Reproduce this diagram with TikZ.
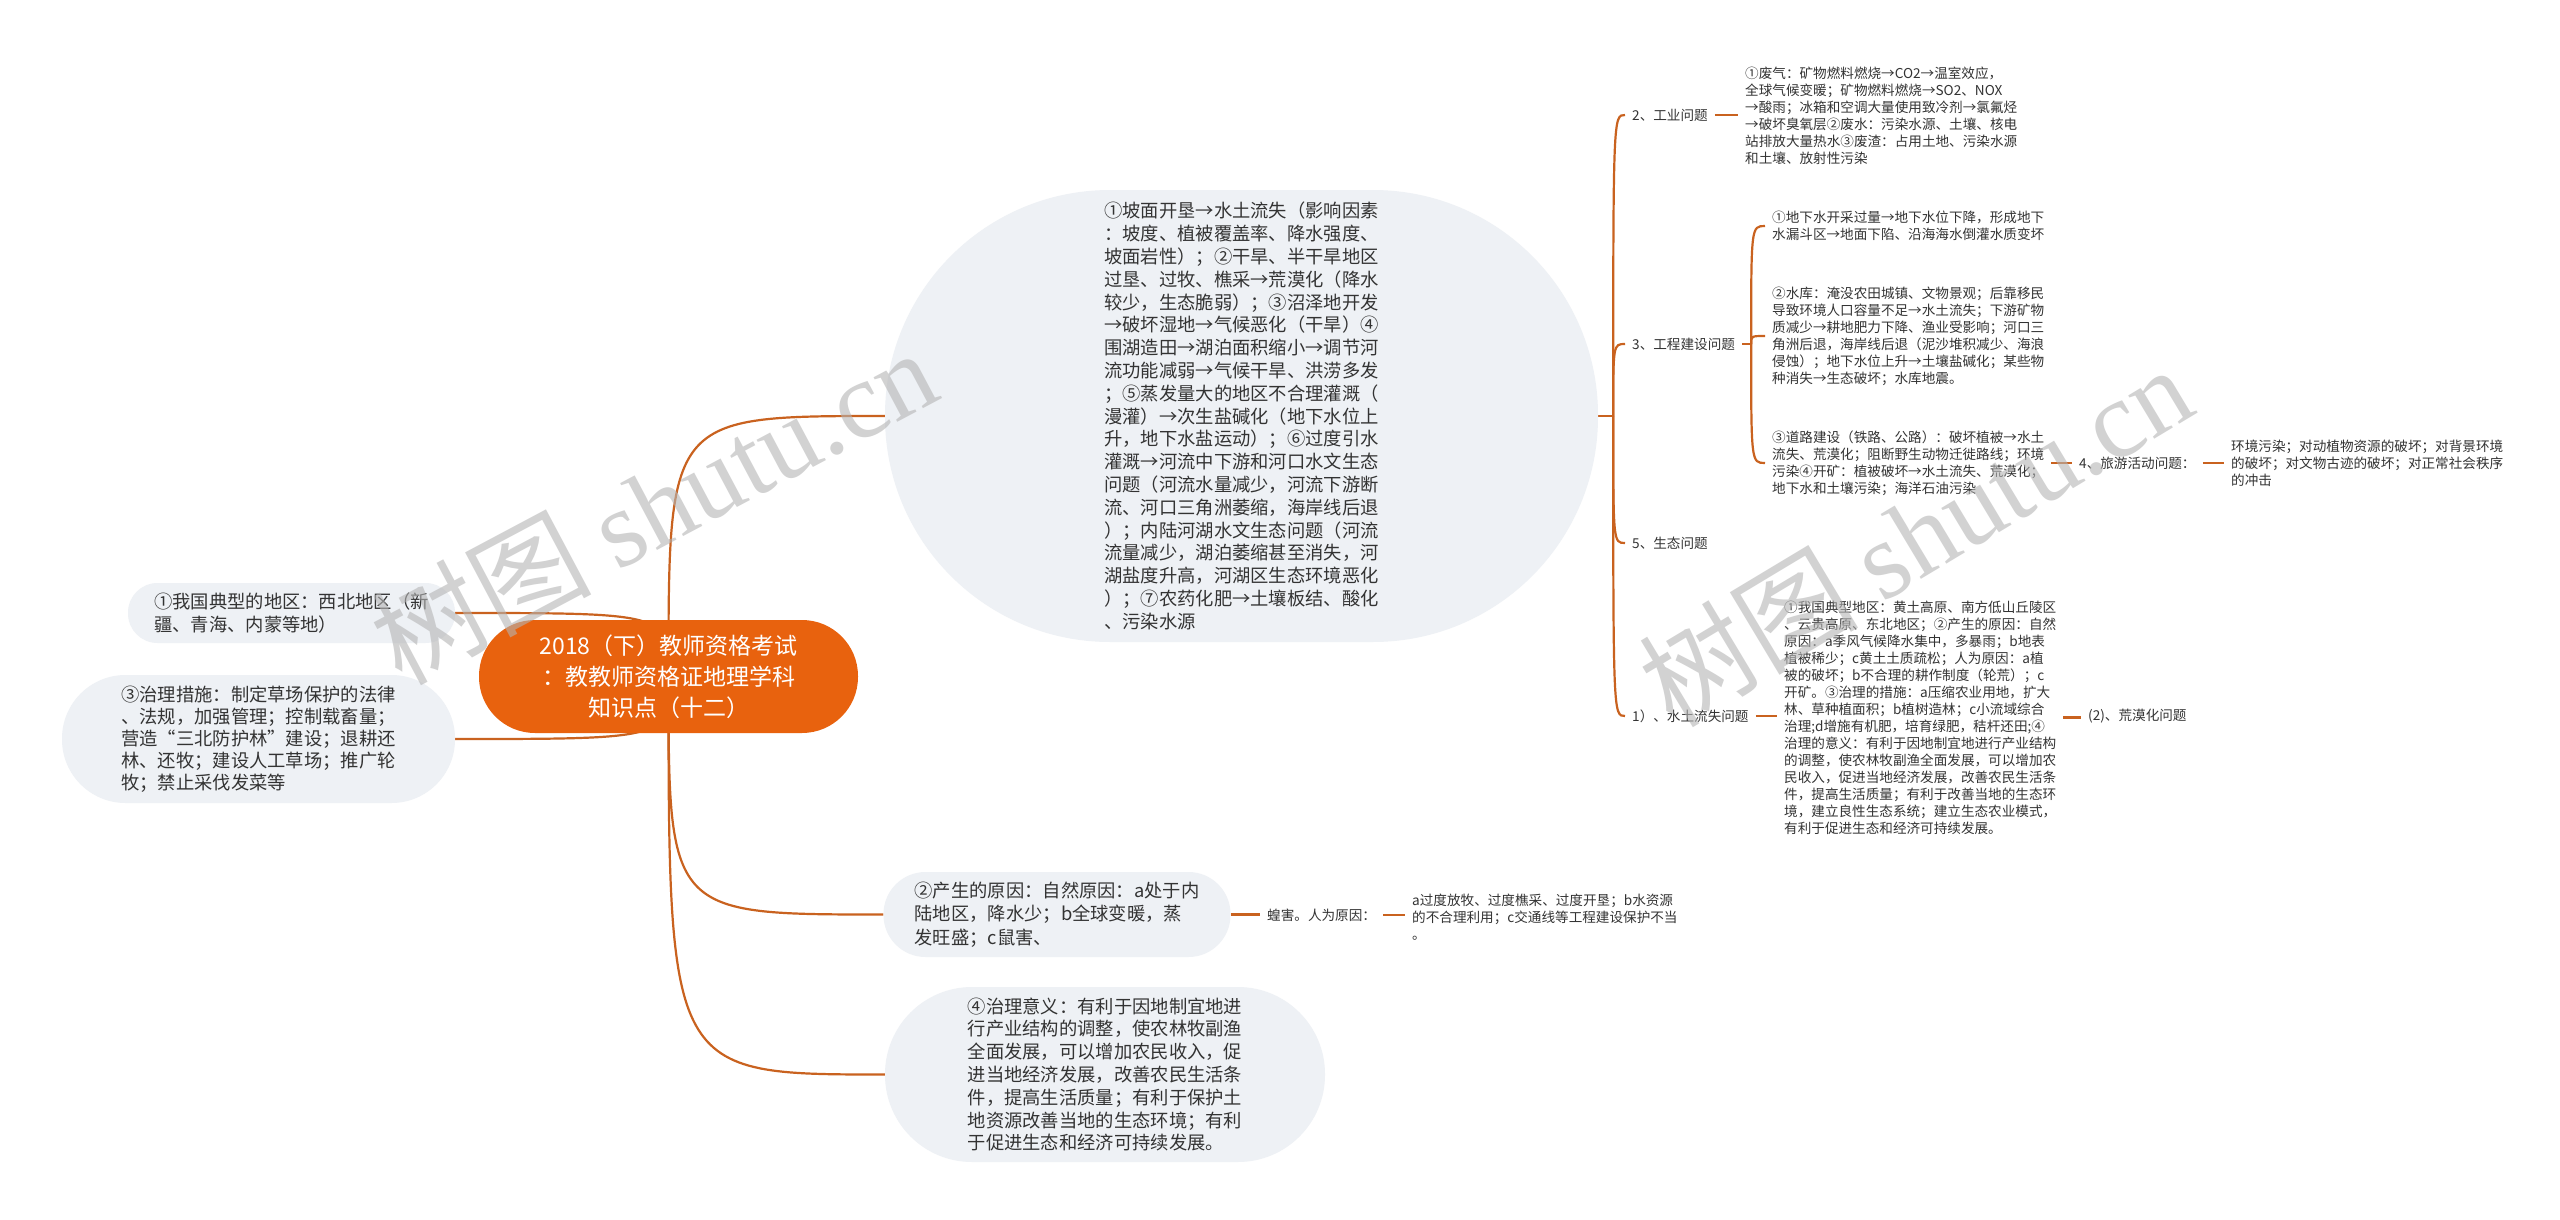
\documentclass[tikz,border=0pt]{standalone}
\usepackage{fontspec}
\setmainfont{Noto Sans CJK SC}
\newfontfamily\wmlat{Liberation Serif}
\usetikzlibrary{calc}
\definecolor{lnc}{HTML}{C9621F}
\definecolor{rootc}{HTML}{E8620E}
\definecolor{pillc}{HTML}{EEF1F5}
\definecolor{txt}{HTML}{333333}
\definecolor{wmc}{HTML}{B4B4B4}
\newcommand\myfs[2]{\fontsize{#1}{#2}\selectfont}
\pgfdeclarelayer{back}\pgfdeclarelayer{bg}\pgfdeclarelayer{fg}
\pgfsetlayers{back,bg,main,fg}
\begin{document}
\begin{tikzpicture}[x=1pt,y=-1pt,
 conn/.style={draw=lnc,line width=2.2pt},
 pill/.style={fill=pillc,inner sep=0pt,align=left,text=txt,font=\myfs{18.3}{22.8}},
 sm/.style={inner xsep=7pt,inner ysep=2pt,anchor=west,align=left,text=txt,font=\myfs{13.6}{17}},
 wm/.style={text=wmc,text opacity=0.6,inner sep=0pt,font=\myfs{110}{110}},
]
\begin{pgfonlayer}{back}
\fill[white] (0,0) rectangle (2560,1220);
\end{pgfonlayer}
\useasboundingbox (0,0) rectangle (2560,1220);

% root
\node[fill=rootc,text=white,rounded corners=56pt,minimum width=379pt,minimum height=113pt,inner sep=0pt,align=center,font=\myfs{23}{31}] (R) at (668.5,676.5)
 {2018（下）教师资格考试\\：教教师资格证地理学科\\知识点（十二）};

% big rounded node
\node[pill,minimum width=713pt,minimum height=452pt,rounded corners=225pt] (E) at (1241.5,416)
 {①坡面开垦→水土流失（影响因素\\
：坡度、植被覆盖率、降水强度、\\
坡面岩性）；②干旱、半干旱地区\\
过垦、过牧、樵采→荒漠化（降水\\
较少，生态脆弱）；③沼泽地开发\\
→破坏湿地→气候恶化（干旱）④\\
围湖造田→湖泊面积缩小→调节河\\
流功能减弱→气候干旱、洪涝多发\\
；⑤蒸发量大的地区不合理灌溉（\\
漫灌）→次生盐碱化（地下水位上\\
升，地下水盐运动）；⑥过度引水\\
灌溉→河流中下游和河口水文生态\\
问题（河流水量减少，河流下游断\\
流、河口三角洲萎缩，海岸线后退\\
）；内陆河湖水文生态问题（河流\\
流量减少，湖泊萎缩甚至消失，河\\
湖盐度升高，河湖区生态环境恶化\\
）；⑦农药化肥→土壤板结、酸化\\
、污染水源};

% left pills
\node[pill,minimum width=327pt,minimum height=60pt,rounded corners=29.5pt] (L1) at (291.5,613)
 {①我国典型的地区：西北地区（新\\疆、青海、内蒙等地）};
\node[pill,font=\myfs{18.3}{22},minimum width=393pt,minimum height=128pt,rounded corners=63.5pt] (L2) at (258.5,739)
 {③治理措施：制定草场保护的法律\\
、法规，加强管理；控制载畜量；\\
营造“三北防护林”建设；退耕还\\
林、还牧；建设人工草场；推广轮\\
牧；禁止采伐发菜等};

% bottom pills
\node[pill,font=\myfs{18.3}{23.5},minimum width=347pt,minimum height=85pt,rounded corners=42pt] (B1) at (1057,914.5)
 {②产生的原因：自然原因：a处于内\\
陆地区，降水少；b全球变暖，蒸\\
发旺盛；c鼠害、};
\node[pill,minimum width=440pt,minimum height=175pt,rounded corners=87pt] (B2) at (1105,1074.5)
 {④治理意义：有利于因地制宜地进\\
行产业结构的调整，使农林牧副渔\\
全面发展，可以增加农民收入，促\\
进当地经济发展，改善农民生活条\\
件，提高生活质量；有利于保护土\\
地资源改善当地的生态环境；有利\\
于促进生态和经济可持续发展。};

% right side
\node[sm] (c2) at (1625,115) {2、工业问题};
\node[sm] (ind) at (1738,115.5)
 {①废气：矿物燃料燃烧→CO2→温室效应，\\
全球气候变暖；矿物燃料燃烧→SO2、NOX\\
→酸雨；冰箱和空调大量使用致冷剂→氯氟烃\\
→破坏臭氧层②废水：污染水源、土壤、核电\\
站排放大量热水③废渣：占用土地、污染水源\\
和土壤、放射性污染};
\node[sm] (c3) at (1625,344) {3、工程建设问题};
\node[sm] (e1) at (1765,226)
 {①地下水开采过量→地下水位下降，形成地下\\
水漏斗区→地面下陷、沿海海水倒灌水质变坏};
\node[sm] (e2) at (1765,336)
 {②水库：淹没农田城镇、文物景观；后靠移民\\
导致环境人口容量不足→水土流失；下游矿物\\
质减少→耕地肥力下降、渔业受影响；河口三\\
角洲后退，海岸线后退（泥沙堆积减少、海浪\\
侵蚀）；地下水位上升→土壤盐碱化；某些物\\
种消失→生态破坏；水库地震。};
\node[sm] (e3) at (1765,463)
 {③道路建设（铁路、公路）：破坏植被→水土\\
流失、荒漠化；阻断野生动物迁徙路线；环境\\
污染④开矿：植被破坏→水土流失、荒漠化；\\
地下水和土壤污染；海洋石油污染};
\node[sm] (t1) at (2072,463) {4、旅游活动问题：};
\node[sm] (t2) at (2224,463.5)
 {环境污染；对动植物资源的破坏；对背景环境\\
的破坏；对文物古迹的破坏；对正常社会秩序\\
的冲击};
\node[sm] (c5) at (1625,543) {5、生态问题};
\node[sm] (c1) at (1625,716) {1）、水土流失问题};
\node[sm] (s1) at (1777,717.5)
 {①我国典型地区：黄土高原、南方低山丘陵区\\
、云贵高原、东北地区；②产生的原因：自然\\
原因：a季风气候降水集中，多暴雨；b地表\\
植被稀少；c黄土土质疏松；人为原因：a植\\
被的破坏；b不合理的耕作制度（轮荒）；c\\
开矿。③治理的措施：a压缩农业用地，扩大\\
林、草种植面积；b植树造林；c小流域综合\\
治理;d增施有机肥，培育绿肥，秸杆还田;④\\
治理的意义：有利于因地制宜地进行产业结构\\
的调整，使农林牧副渔全面发展，可以增加农\\
民收入，促进当地经济发展，改善农民生活条\\
件，提高生活质量；有利于改善当地的生态环\\
境，建立良性生态系统；建立生态农业模式，\\
有利于促进生态和经济可持续发展。};
\node[sm] (d2) at (2081,716) {(2)、荒漠化问题};
\node[sm] (h1) at (1260,915) {蝗害。人为原因：};
\node[sm] (h2) at (1405,917)
 {a过度放牧、过度樵采、过度开垦；b水资源\\
的不合理利用；c交通线等工程建设保护不当\\
。};

\coordinate (J) at ($(E.east)+(15,0)$);
\coordinate (J3) at ($(c3.east)+(9,0)$);

\begin{pgfonlayer}{bg}
\draw[conn] (R.center) .. controls (R.center |- E.west) .. (E.west);
\draw[conn] (R.center) .. controls (R.center |- B1.west) .. (B1.west);
\draw[conn] (R.center) .. controls (R.center |- B2.west) .. (B2.west);
\draw[conn] (R.center) .. controls (R.center |- L1.east) .. (L1.east);
\draw[conn] (R.center) .. controls (R.center |- L2.east) .. (L2.east);
\draw[conn] (E.east) -- (J);
\foreach \n in {c2,c3,c5,c1} \draw[conn] (J) .. controls (J |- \n.west) .. (\n.west);
\draw[conn] (c2.east) -- (ind.west |- c2.east);
\draw[conn] (c3.east) -- (J3);
\foreach \n in {e1,e2,e3} \draw[conn] (J3) .. controls (J3 |- \n.west) .. (\n.west);
\draw[conn] (e3.east) -- (t1.west |- e3.east);
\draw[conn] (t1.east) -- (t2.west |- t1.east);
\draw[conn] (c1.east) -- (s1.west |- c1.east);
\draw[conn] (s1.east) -- (d2.west |- s1.east);
\draw[conn] (B1.east) -- (h1.west |- B1.east);
\draw[conn] (h1.east) -- (h2.west |- h1.east);
\end{pgfonlayer}

\begin{pgfonlayer}{fg}
\node[wm,rotate=28] (W1) at (653,505) {树图 {\wmlat shutu.cn}};
\node[wm,rotate=31] (W2) at (1915,535) {树图 {\wmlat shutu.cn}};
\end{pgfonlayer}
\end{tikzpicture}
\end{document}
